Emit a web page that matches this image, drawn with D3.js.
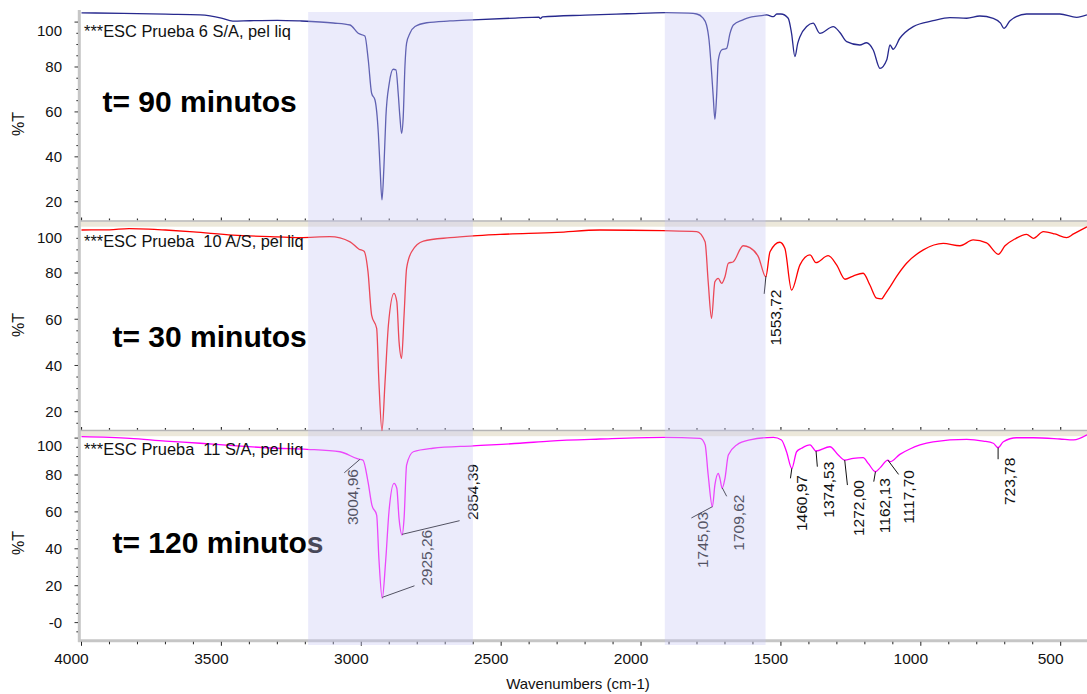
<!DOCTYPE html>
<html><head><meta charset="utf-8">
<script src="https://cdn.jsdelivr.net/npm/d3@7"></script>
<style>body{margin:0;background:#fff;}svg{display:block;font-family:"Liberation Sans",Arial,sans-serif;}</style>
</head><body><svg id="c" width="1087" height="694"></svg>
<script>
// ---- data: [wavenumber cm-1, %T] ----
const spectrum90 = [[4000,104.1],[3850,103.9],[3700,103.5],[3576,103.2],[3500,101.8],[3459,100.4],[3398,100.6],[3300,100.8],[3219,100.5],[3100,99.6],[3040,98.7],[3011,95.0],[2987,93.8],[2975,83.1],[2963,68.3],[2951,65.3],[2939,50.5],[2933,35.6],[2926,20.8],[2919,35.6],[2912,57.9],[2900,72.7],[2886,79.0],[2876,78.7],[2868,68.3],[2862,57.9],[2856,50.5],[2850,57.9],[2844,80.1],[2838,90.6],[2826,95.0],[2808,98.0],[2766,99.7],[2683,100.5],[2600,101.0],[2450,101.8],[2365,102.2],[2360,101.6],[2352,102.3],[2200,103.1],[2050,103.7],[1909,104.2],[1830,104.0],[1801,103.6],[1780,102.0],[1766,98.7],[1757,92.0],[1748,78.0],[1742,66.8],[1736,56.7],[1730,66.8],[1724,83.1],[1712,87.6],[1694,88.3],[1682,95.0],[1670,98.7],[1636,101.0],[1623,101.7],[1563,103.0],[1551,103.2],[1527,102.4],[1515,103.6],[1500,103.6],[1474,101.7],[1462,95.0],[1450,84.6],[1440,90.5],[1432,93.5],[1408,98.0],[1385,99.5],[1361,95.0],[1313,98.0],[1290,95.5],[1265,91.3],[1218,89.8],[1194,90.8],[1170,87.6],[1146,79.4],[1122,83.1],[1110,89.8],[1099,87.9],[1075,92.8],[1027,98.0],[956,100.6],[896,102.0],[836,101.7],[789,102.7],[741,101.7],[715,99.5],[703,97.2],[681,100.6],[622,103.6],[503,103.6],[443,102.1],[406,103.2]];
const spectrum30 = [[4000,98.6],[3900,98.7],[3830,99.2],[3760,99.0],[3700,98.6],[3600,97.8],[3459,96.4],[3300,95.6],[3219,95.3],[3112,95.7],[3040,93.5],[3008,90.3],[2990,89.4],[2976,80.6],[2963,61.8],[2945,56.0],[2937,33.0],[2926,11.8],[2915,33.0],[2903,57.5],[2883,71.2],[2873,67.6],[2865,50.3],[2856,43.1],[2847,61.8],[2838,82.0],[2820,89.2],[2778,93.8],[2683,95.3],[2600,96.1],[2504,96.7],[2300,97.6],[2147,98.6],[1922,98.3],[1801,97.9],[1771,93.5],[1760,76.2],[1748,60.4],[1736,76.2],[1724,77.7],[1712,75.5],[1700,78.4],[1688,84.2],[1670,84.9],[1635,91.8],[1611,91.0],[1581,87.1],[1554,78.4],[1539,89.2],[1504,93.3],[1486,90.7],[1462,72.6],[1432,83.5],[1396,87.8],[1375,84.5],[1331,87.5],[1301,83.5],[1271,77.3],[1242,78.7],[1206,79.9],[1182,74.8],[1158,69.1],[1140,68.8],[1128,70.8],[1110,74.0],[1087,78.4],[1051,84.2],[991,90.0],[920,92.8],[860,91.8],[813,94.3],[765,93.0],[723,88.1],[699,91.8],[664,94.7],[622,96.7],[598,95.0],[562,97.9],[521,96.9],[479,95.3],[454,96.9],[406,100.0]];
const spectrum120 = [[4000,100.8],[3827,99.9],[3700,98.4],[3576,97.2],[3459,95.9],[3300,94.5],[3194,93.9],[3076,92.6],[3012,88.7],[2994,88.1],[2976,76.4],[2962,63.7],[2945,58.3],[2937,34.8],[2925,13.2],[2913,33.0],[2901,60.1],[2883,75.5],[2873,72.8],[2865,56.5],[2854,47.5],[2847,56.5],[2838,85.4],[2814,92.6],[2744,94.5],[2600,95.8],[2433,97.2],[2326,98.4],[2147,99.5],[1920,100.4],[1789,99.9],[1771,96.3],[1760,80.0],[1745,62.8],[1736,74.6],[1724,80.9],[1718,78.2],[1710,72.8],[1700,78.2],[1688,90.8],[1658,96.3],[1611,99.0],[1527,100.4],[1498,99.0],[1480,92.6],[1461,83.6],[1444,92.6],[1426,94.5],[1396,96.3],[1375,93.0],[1325,95.3],[1295,90.8],[1272,88.1],[1242,89.0],[1206,89.4],[1188,86.3],[1162,81.8],[1145,84.0],[1118,88.1],[1110,87.2],[1075,91.2],[1039,94.1],[1003,96.3],[956,98.0],[836,99.3],[777,98.4],[741,97.2],[724,94.8],[705,98.0],[658,100.2],[598,100.2],[503,99.5],[454,99.0],[406,101.8]];

const panelTitles = ["t= 90 minutos", "t= 30 minutos", "t= 120 minutos"];
const sampleNames = ["***ESC Prueba 6 S/A, pel liq", "***ESC Prueba  10 A/S, pel liq", "***ESC Prueba  11 S/A, pel liq"];
const yTicksTop = [20, 40, 60, 80, 100];
const yTicksMid = [20, 40, 60, 80, 100];
const yTicksBottom = [0, 20, 40, 60, 80, 100];
const yTickLabelsBottom = ["-0", "20", "40", "60", "80", "100"];
const xTickValues = [4000, 3500, 3000, 2500, 2000, 1500, 1000, 500];
const shadedRanges = [[3190, 2601], [1915, 1555]];
const peaks120 = [3004.96, 2925.26, 2854.39, 1745.03, 1709.62, 1460.97, 1374.53, 1272.00, 1162.13, 1117.70, 723.78];
const peakLabels120 = ["3004,96", "2925,26", "2854,39", "1745,03", "1709,62", "1460,97", "1374,53", "1272,00", "1162,13", "1117,70", "723,78"];
const peaks30 = [1553.72];
const peakLabels30 = ["1553,72"];
const xAxisTitle = "Wavenumbers (cm-1)";
const yAxisTitle = "%T";

// ---- layout (not data) ----
const leaders120 = [
  {l:[-15.6,13.4], t:[-7.3,9.7], a:"end"},
  {l:[32.3,-11.6], t:[44,-11.6], a:"start"},
  {l:[57.6,-13.7], t:[70,-14.3], a:"start"},
  {l:[-21,11.3], t:[-10,5.3], a:"end"},
  {l:[4.4,8.4], t:[16,6.7], a:"end"},
  {l:[-1.4,10], t:[9.3,6.7], a:"end"},
  {l:[1.3,15.7], t:[12.3,10.7], a:"end"},
  {l:[2.7,25], t:[13.4,20], a:"end"},
  {l:[-1.7,10], t:[9.3,6.6], a:"end"},
  {l:[10.7,14.3], t:[20.7,10], a:"end"},
  {l:[0,11.6], t:[11,10], a:"end"}
];
const leaders30 = [{l:[-1.7,17.6], t:[9.3,13.3], a:"end"}];

const svg = d3.select("#c");
const x = d3.scaleLinear().domain([4000, 406]).range([81.5, 1087]);

const panels = [
  {data: spectrum90, color: "#27298e", top: 19.5, bottom: 220.5, domain: [11.65, 101.15], ticks: yTicksTop, labels: yTicksTop.map(String),
   title: panelTitles[0], name: sampleNames[0], titleX: 102.5, titleY: 112, nameY: 37, yTitleY: 124},
  {data: spectrum30, color: "#ff0000", top: 226.7, bottom: 430, domain: [12.09, 100.03], ticks: yTicksMid, labels: yTicksMid.map(String),
   title: panelTitles[1], name: sampleNames[1], titleX: 112.5, titleY: 346.7, nameY: 246.5, yTitleY: 325},
  {data: spectrum120, color: "#ff00ff", top: 434.5, bottom: 640.5, domain: [-9.7, 101.95], ticks: yTicksBottom, labels: yTickLabelsBottom,
   title: panelTitles[2], name: sampleNames[2], titleX: 112.5, titleY: 553.3, nameY: 455, yTitleY: 543}
];
panels.forEach(p => { p.y = d3.scaleLinear().domain(p.domain).range([p.bottom, p.top]); });

const minorX = d3.range(4000, 405, -100);

// separators between panels
[panels[0], panels[1]].forEach(p => {
  svg.append("rect").attr("x", 79).attr("y", p.bottom + 1.2).attr("width", 1087 - 79).attr("height", 5).attr("fill", "#ece8da");
  svg.append("line").attr("x1", 79).attr("x2", 1087).attr("y1", p.bottom + 0.5).attr("y2", p.bottom + 0.5)
    .attr("stroke", "#b4b4b4").attr("stroke-width", 1.6);
  svg.append("g").selectAll("line").data(minorX).join("line")
    .attr("x1", d => x(d)).attr("x2", d => x(d))
    .attr("y1", p.bottom - 0.3).attr("y2", d => p.bottom - (d % 500 === 0 ? 3 : 2))
    .attr("stroke", "#333").attr("stroke-width", 1.2);
});

// bottom x axis
const axY = 640.8;
svg.append("line").attr("x1", 78).attr("x2", 1087).attr("y1", axY).attr("y2", axY).attr("stroke", "#c6c6c6").attr("stroke-width", 3);
svg.append("g").selectAll("line").data(minorX).join("line")
  .attr("x1", d => x(d)).attr("x2", d => x(d))
  .attr("y1", axY + 1).attr("y2", d => axY + (d % 500 === 0 ? 5 : 3.5))
  .attr("stroke", "#222").attr("stroke-width", 1);
svg.append("g").selectAll("text").data(xTickValues).join("text")
  .attr("x", d => x(d) - 10).attr("y", 663.5).attr("text-anchor", "middle")
  .attr("font-size", 15.5).attr("fill", "#111").text(d => d);
svg.append("text").attr("x", 578).attr("y", 688.5).attr("text-anchor", "middle")
  .attr("font-size", 15).attr("fill", "#111").text(xAxisTitle);

// left y axis
svg.append("line").attr("x1", 79.3).attr("x2", 79.3).attr("y1", 10).attr("y2", 642).attr("stroke", "#c6c6c6").attr("stroke-width", 3);

const lineGen = p => d3.line().x(d => x(d[0])).y(d => p.y(d[1])).curve(d3.curveMonotoneX);

panels.forEach(p => {
  const g = svg.append("g");
  const lo = Math.ceil(p.domain[0] / 5) * 5;
  const minors = d3.range(lo, p.domain[1], 5);
  g.selectAll("line.mn").data(minors).join("line").attr("class", "mn")
    .attr("x1", d => d % 20 === 0 ? 74.5 : 76.3).attr("x2", 78)
    .attr("y1", d => p.y(d)).attr("y2", d => p.y(d))
    .attr("stroke", "#333").attr("stroke-width", 1);
  g.selectAll("text.tk").data(p.ticks).join("text").attr("class", "tk")
    .attr("x", 62).attr("y", d => Math.max(p.y(d), p.top + 11)).attr("dy", "0.36em")
    .attr("text-anchor", "end").attr("font-size", 15).attr("fill", "#111")
    .text((d, i) => p.labels[i]);
  g.append("text").attr("transform", `translate(24,${p.yTitleY}) rotate(-90)`)
    .attr("text-anchor", "middle").attr("font-size", 16).attr("fill", "#111").text(yAxisTitle);
  // spectrum
  g.append("path").datum(p.data).attr("d", lineGen(p)).attr("fill", "none")
    .attr("stroke", p.color).attr("stroke-width", 1.3).attr("stroke-linejoin", "round");
  // sample name
  g.append("text").attr("x", 84).attr("y", p.nameY).attr("font-size", 16.4).attr("fill", "#111")
    .style("white-space", "pre").text(p.name);
  // title
  g.append("text").attr("x", p.titleX).attr("y", p.titleY).attr("font-size", 30).attr("font-weight", "bold")
    .attr("fill", "#000").text(p.title);
});

// peak annotations
function interp(data, wn) {
  for (let i = 0; i < data.length - 1; i++) {
    const a = data[i], b = data[i + 1];
    if (wn <= a[0] && wn >= b[0]) return a[1] + (b[1] - a[1]) * (a[0] - wn) / (a[0] - b[0]);
  }
  return data[data.length - 1][1];
}
function annotate(p, peaks, labels, lay) {
  const g = svg.append("g");
  peaks.forEach((wn, i) => {
    const px = x(wn), py = p.y(interp(p.data, wn));
    const L = lay[i];
    g.append("line").attr("x1", px).attr("y1", py).attr("x2", px + L.l[0]).attr("y2", py + L.l[1])
      .attr("stroke", "#111").attr("stroke-width", 1);
    g.append("text").attr("transform", `translate(${px + L.t[0]},${py + L.t[1]}) rotate(-90)`)
      .attr("text-anchor", L.a).attr("dy", "0.36em").attr("font-size", 15.5).attr("fill", "#111")
      .text(labels[i]);
  });
}
annotate(panels[2], peaks120, peakLabels120, leaders120);
annotate(panels[1], peaks30, peakLabels30, leaders30);

// shaded regions overlay (drawn on top)
svg.append("g").selectAll("rect").data(shadedRanges).join("rect")
  .attr("x", d => x(d[0])).attr("width", d => x(d[1]) - x(d[0]))
  .attr("y", 12).attr("height", 645 - 12)
  .attr("fill", "rgb(200,200,245)").attr("fill-opacity", 0.36);
</script></body></html>
